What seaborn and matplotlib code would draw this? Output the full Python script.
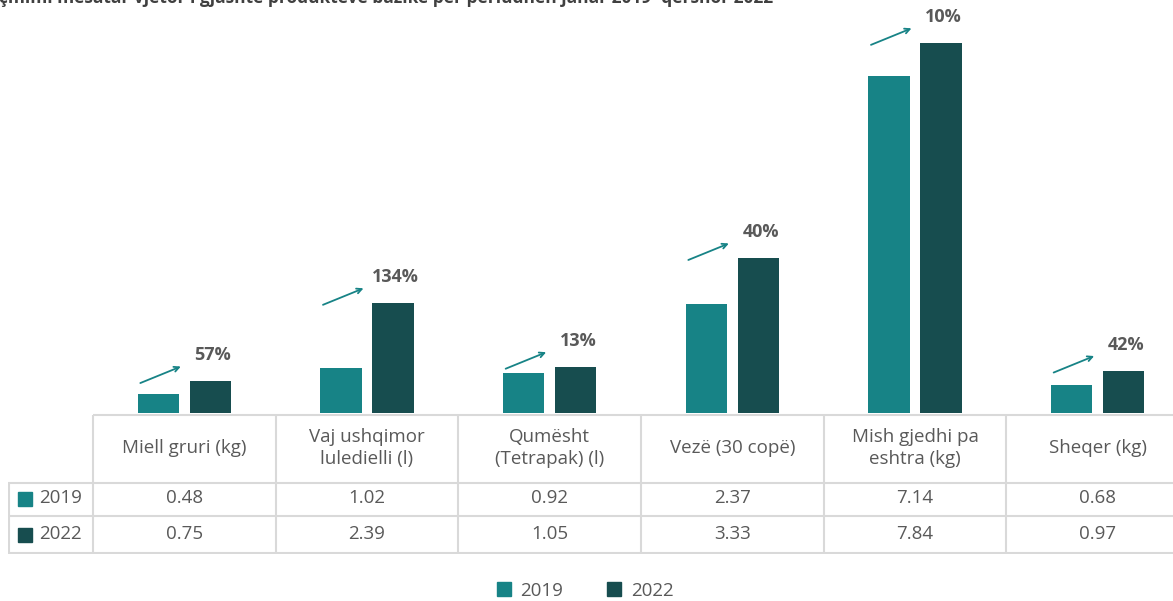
import matplotlib.pyplot as plt
import matplotlib.lines as mlines
import pandas as pd
import seaborn as sns

# data
products = [
    "Miell gruri (kg)",
    "Vaj ushqimor\nluledielli (l)",
    "Qumësht\n(Tetrapak) (l)",
    "Vezë (30 copë)",
    "Mish gjedhi pa\neshtra (kg)",
    "Sheqer (kg)",
]
years = ["2019", "2022"]
price_2019 = [0.48, 1.02, 0.92, 2.37, 7.14, 0.68]
price_2022 = [0.75, 2.39, 1.05, 3.33, 7.84, 0.97]
change_pct = ["57%", "134%", "13%", "40%", "10%", "42%"]
title = "çmimi mesatar vjetor i gjashtë produkteve bazike për periudhën janar 2019 -qershor 2022"

colors = {"2019": "#178386", "2022": "#174D4F"}
TXT = "#595959"
GRID = "#D9D9D9"
FS = 13.5

df = pd.DataFrame({
    "product": products * 2,
    "year": [years[0]] * len(products) + [years[1]] * len(products),
    "price": price_2019 + price_2022,
})

sns.set_style("white")
plt.rcParams["font.family"] = ["Open Sans", "DejaVu Sans"]

W, H = 1173, 601
fig = plt.figure(figsize=(W / 100, H / 100), dpi=100)

# bar axes: x from 93px to 1189px (runs past the right edge like the source)
# zero sits at 417px, but bars are cut at 413px where the table starts
px_per_unit = 47.7
col_w = (1189 - 93) / 6
ax = fig.add_axes([93 / W, (H - 413) / H, 1096 / W, 413 / H])
sns.barplot(
    data=df, x="product", y="price", hue="year",
    order=products, hue_order=years, palette=colors, saturation=1,
    width=0.57, gap=0.21, linewidth=0, legend=False, ax=ax,
)
ax.set_xlim(-0.5, 5.5)
ax.set_ylim(4 / px_per_unit, 417 / px_per_unit)
ax.set_axis_off()

# growth arrows + percentage labels
for i, (v, pct) in enumerate(zip(price_2022, change_pct)):
    ax.annotate(
        "", xy=(i - 0.005, v + 0.33), xytext=(i - 0.255, v - 0.06),
        arrowprops=dict(arrowstyle="->", color=colors["2019"], lw=1.3,
                        mutation_scale=9),
    )
    ax.text(i + 0.155, v + 0.54, pct, ha="center", va="center",
            fontsize=13, fontweight="bold", color=TXT)

# data table below the bars
left_px = 8
x0 = -0.5 - (93 - left_px) / col_w
tax = fig.add_axes([left_px / W, (H - 554) / H, (1189 - left_px) / W, 141 / H])
tax.set_xlim(x0, 5.5)
tax.set_ylim(554, 413)
tax.set_axis_off()

lkw = dict(color=GRID, lw=1.5, solid_capstyle="butt")
tax.plot([-0.5, 5.5], [414.5, 414.5], **lkw)
for yy in (483, 516, 553):
    tax.plot([x0, 5.5], [yy, yy], **lkw)
tax.plot([x0 + 0.003, x0 + 0.003], [483, 553], **lkw)
for k in range(6):
    tax.plot([k - 0.5, k - 0.5], [414.5, 553], **lkw)

for i, name in enumerate(products):
    tax.text(i, 448, name, ha="center", va="center", fontsize=FS,
             color=TXT, linespacing=1.3)
    tax.text(i, 498, f"{price_2019[i]:.2f}", ha="center", va="center",
             fontsize=FS, color=TXT)
    tax.text(i, 534, f"{price_2022[i]:.2f}", ha="center", va="center",
             fontsize=FS, color=TXT)

for yy, yr in zip((498, 534), years):
    tax.plot([x0 + 17 / col_w], [yy + 1], marker="s", ms=10,
             color=colors[yr], ls="none")
    tax.text(x0 + 31 / col_w, yy, yr, ha="left", va="center",
             fontsize=FS, color=TXT)

# cropped title at the very top
fig.text(-0.001, 1 - 3 / H, title, ha="left", va="baseline",
         fontsize=12.5, fontweight="bold", color="#404040")

handles = [mlines.Line2D([], [], marker="s", ls="none", ms=10,
                         color=colors[y]) for y in years]
fig.legend(handles, years, loc="center", bbox_to_anchor=(583 / W, 1 - 591 / H),
           ncol=2, frameon=False, fontsize=FS, handletextpad=0.3,
           columnspacing=2.1, handlelength=1.2, labelcolor=TXT)

fig.savefig("out.png", dpi=100)
